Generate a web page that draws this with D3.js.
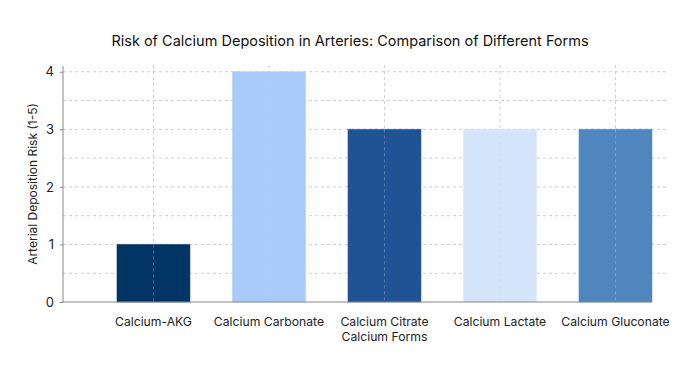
<!DOCTYPE html>
<html lang="en">
<head>
    <meta charset="UTF-8">
    <title>Risk of Calcium Deposition in Arteries</title>
    <script src="https://cdnjs.cloudflare.com/ajax/libs/d3/7.8.5/d3.min.js"></script>
    <style>
        body { margin: 0; background: #fff; font-family: Inter, 'Noto Sans', sans-serif; }
        svg { display: block; }
    </style>
</head>
<body>
    <svg id="chart" width="698" height="374"></svg>
    <script>
        // data
        const forms = ["Calcium-AKG", "Calcium Carbonate", "Calcium Citrate", "Calcium Lactate", "Calcium Gluconate"];
        const risk = [1, 4, 3, 3, 3];
        const barColors = ["#023466", "#a8cbfb", "#1f5394", "#d4e5fb", "#4e86bd"];
        const yTicks = [0, 1, 2, 3, 4];
        const yGrid = [0.5, 1, 1.5, 2, 2.5, 3, 3.5, 4];

        const svg = d3.select("#chart");
        const plotL = 63, plotR = 668, plotT = 66, plotB = 302;

        const x = d3.scaleBand().domain(forms)
            .range([plotL, plotR])
            .paddingInner(0.368).paddingOuter(0.303).align(0.771);
        const y = d3.scaleLinear().domain([0, 4.1]).range([plotB, plotT]);

        // grid
        svg.append("g").selectAll("line").data(yGrid).join("line")
            .attr("x1", plotL).attr("x2", plotR)
            .attr("y1", d => y(d)).attr("y2", d => y(d))
            .attr("stroke", "#cfcfcf").attr("stroke-dasharray", "3,3");
        svg.append("g").selectAll("line").data(forms).join("line")
            .attr("x1", d => x(d) + x.bandwidth() / 2).attr("x2", d => x(d) + x.bandwidth() / 2)
            .attr("y1", plotT - 1).attr("y2", plotB)
            .attr("stroke", "#cfcfcf").attr("stroke-dasharray", "3,3");

        // bars
        svg.append("g").selectAll("rect").data(forms).join("rect")
            .attr("x", d => x(d))
            .attr("y", (d, i) => y(risk[i]))
            .attr("width", x.bandwidth())
            .attr("height", (d, i) => y(0) - y(risk[i]))
            .attr("fill", (d, i) => barColors[i])
            .attr("stroke", (d, i) => barColors[i])
            .attr("stroke-opacity", 0.5);

        // grid shows faintly through the bars in the reference
        svg.append("g").selectAll("line").data(forms).join("line")
            .attr("x1", d => x(d) + x.bandwidth() / 2).attr("x2", d => x(d) + x.bandwidth() / 2)
            .attr("y1", (d, i) => y(risk[i])).attr("y2", plotB)
            .attr("stroke", "#cfcfcf").attr("stroke-opacity", 0.35).attr("stroke-dasharray", "3,3");

        // y axis
        const yAxis = svg.append("g").attr("transform", `translate(${plotL},0)`)
            .call(d3.axisLeft(y).tickValues(yTicks).tickFormat(d3.format("d")).tickSize(3).tickPadding(6));
        yAxis.select(".domain").attr("stroke", "#888").attr("d", `M0,${plotT}V${plotB}`);
        yAxis.selectAll(".tick line").attr("stroke", "#888");
        yAxis.selectAll(".tick text").attr("font-family", "Inter, sans-serif")
            .attr("font-size", 13).attr("fill", "#222");

        // x axis
        const lastX = x(forms[forms.length - 1]) + x.bandwidth();
        const xAxis = svg.append("g").attr("transform", `translate(0,${plotB})`)
            .call(d3.axisBottom(x).tickSize(0).tickPadding(15));
        xAxis.select(".domain").attr("stroke", "#888").attr("stroke-width", 1.2)
            .attr("d", `M${plotL},0H${lastX}`);
        xAxis.selectAll(".tick text").attr("font-family", "Inter, sans-serif")
            .attr("font-size", 12.2).attr("fill", "#222");

        // titles
        svg.append("text")
            .attr("x", 350).attr("y", 46)
            .attr("text-anchor", "middle")
            .attr("font-family", "Inter, sans-serif")
            .attr("font-size", 14.5).attr("font-weight", 400).attr("fill", "#111")
            .text("Risk of Calcium Deposition in Arteries: Comparison of Different Forms");

        svg.append("text")
            .attr("transform", `translate(37,184) rotate(-90)`)
            .attr("text-anchor", "middle")
            .attr("font-family", "Inter, sans-serif")
            .attr("font-size", 12).attr("fill", "#222")
            .text("Arterial Deposition Risk (1-5)");

        svg.append("text")
            .attr("x", x(forms[2]) + x.bandwidth() / 2).attr("y", 341)
            .attr("text-anchor", "middle")
            .attr("font-family", "Inter, sans-serif")
            .attr("font-size", 12.2).attr("fill", "#222")
            .text("Calcium Forms");
    </script>
</body>
</html>
